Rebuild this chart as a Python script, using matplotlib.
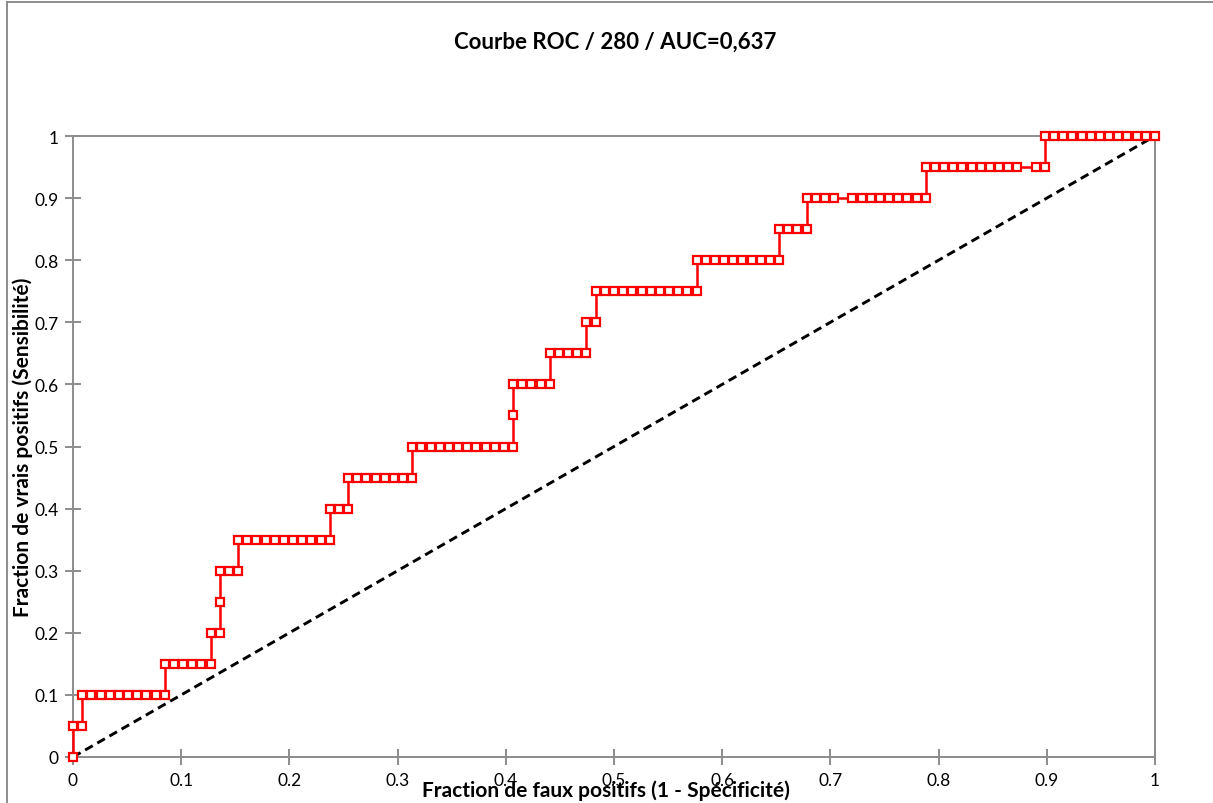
import matplotlib
matplotlib.use('Agg')
import matplotlib.pyplot as plt
from matplotlib.lines import Line2D

# ROC points, as counts of false / true positives
n_neg = 118
n_pos = 20

fp_counts = [
    0,
    0, 1,
    1, 2, 3, 4, 5, 6, 7, 8, 9, 10,
    10, 11, 12, 13, 14, 15,
    15, 16,
    16,
    16, 17, 18,
    18, 19, 20, 21, 22, 23, 24, 25, 26, 27, 28,
    28, 29, 30,
    30, 31, 32, 33, 34, 35, 36, 37,
    37, 38, 39, 40, 41, 42, 43, 44, 45, 46, 47, 48,
    48,
    48, 49, 50, 51, 52,
    52, 53, 54, 55, 56,
    56, 57,
    57, 58, 59, 60, 61, 62, 63, 64, 65, 66, 67, 68,
    68, 69, 70, 71, 72, 73, 74, 75, 76, 77,
    77, 78, 79, 80,
    80, 81, 82, 83, 85, 86, 87, 88, 89, 90, 91, 92, 93,
    93, 94, 95, 96, 97, 98, 99, 100, 101, 102, 103, 105, 106,
    106, 107, 108, 109, 110, 111, 112, 113, 114, 115, 116, 117, 118,
]
tp_counts = (
    [0] * 1 + [1] * 2 + [2] * 10 + [3] * 6 + [4] * 2 + [5] * 1 + [6] * 3
    + [7] * 11 + [8] * 3 + [9] * 8 + [10] * 12 + [11] * 1 + [12] * 5
    + [13] * 5 + [14] * 2 + [15] * 12 + [16] * 10 + [17] * 4 + [18] * 13
    + [19] * 13 + [20] * 13
)

title = 'Courbe ROC / 280 / AUC=0,637'
x_label = 'Fraction de faux positifs (1 - Spécificité)'
y_label = 'Fraction de vrais positifs (Sensibilité)'
tick_values = [0, 0.1, 0.2, 0.3, 0.4, 0.5, 0.6, 0.7, 0.8, 0.9, 1]
tick_labels = ['0', '0.1', '0.2', '0.3', '0.4', '0.5', '0.6', '0.7', '0.8', '0.9', '1']

fpr = [c / n_neg for c in fp_counts]
tpr = [c / n_pos for c in tp_counts]

plt.rcParams['font.family'] = ['Lato', 'DejaVu Sans']
grey = '#8c8c8c'

W, H = 1213, 804
fig = plt.figure(figsize=(W / 100, H / 100), dpi=100)
ax = fig.add_axes([73 / W, 1 - 758 / H, (1155 - 73) / W, (758 - 137) / H])

ax.plot([0, 1], [0, 1], color='black', linestyle=(0, (3, 1.8)), linewidth=2.1, zorder=2)
ax.plot(fpr, tpr, color='#ff0000', linewidth=1.8, marker='s', markersize=6.4,
        markerfacecolor='white', markeredgecolor='#ff0000', markeredgewidth=1.6,
        zorder=3, clip_on=False)

ax.set_xlim(0, 1)
ax.set_ylim(0, 1)
ax.set_xticks(tick_values)
ax.set_xticklabels(tick_labels)
ax.set_yticks(tick_values)
ax.set_yticklabels(tick_labels)
for s in ax.spines.values():
    s.set_color(grey)
    s.set_linewidth(1.4)
ax.tick_params(direction='inout', length=11, width=1.4, color=grey,
               labelsize=12.5, labelcolor='black')
ax.tick_params(axis='x', pad=5)
ax.tick_params(axis='y', pad=5)

fig.text(615 / W, 1 - 42 / H, title, ha='center', va='center',
         fontsize=16, fontweight='bold')
fig.text(606 / W, 1 - 791 / H, x_label, ha='center', va='center',
         fontsize=15, fontweight='bold')
fig.text(23 / W, 1 - 447 / H, y_label, ha='center', va='center',
         rotation=90, fontsize=15, fontweight='bold')

# outer chart border (Excel chart area)
fig.add_artist(Line2D([7 / W, 7 / W], [0, 1 - 3 / H], transform=fig.transFigure,
                      color=grey, linewidth=1.4))
fig.add_artist(Line2D([7 / W, 1], [1 - 3 / H, 1 - 3 / H], transform=fig.transFigure,
                      color=grey, linewidth=1.4))

fig.savefig('out.png', dpi=100)
